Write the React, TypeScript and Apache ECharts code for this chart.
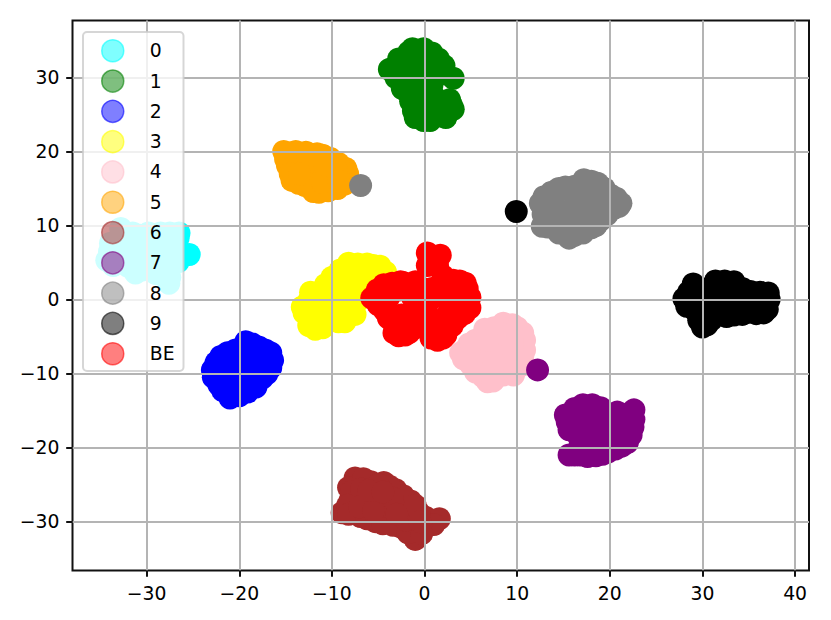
import React, { useEffect, useRef } from "react";
import * as echarts from "echarts";

type P = [number, number];

const xTicks = [-30, -20, -10, 0, 10, 20, 30, 40];
const yTicks = [-30, -20, -10, 0, 10, 20, 30];
const classNames = ["0", "1", "2", "3", "4", "5", "6", "7", "8", "9", "BE"];
const classColors = ["0,255,255", "0,128,0", "0,0,255", "255,255,0", "255,192,203", "255,165,0", "165,42,42", "128,0,128", "128,128,128", "0,0,0", "255,0,0"];

const class0: P[] = [[-32.8,9.6],[-33.9,7.6],[-34.3,5.3],[-33.6,4.6],[-31.2,3.6],[-32.8,5.1],[-29.6,4.0],[-27.6,2.2],[-28.0,4.0],[-26.6,8.3],[-26.6,6.7],[-25.4,6.1],[-26.6,5.1],[-31.7,7.3],[-29.6,6.7],[-28.0,6.7],[-30.7,8.7],[-29.0,8.0],[-28.5,9.0],[-33,8],[-33,6.5],[-31.5,5.5],[-30,5],[-28.5,5.5],[-27,7.5],[-27.5,3],[-30.5,4],[-32,4.5],[-31.5,9],[-29.8,9],[-27.5,9],[-26.5,9],[-34,6.5],[-30.5,7],[-27.2,5.8],[-29,3.5]];
const class1: P[] = [[-1.3,33.9],[-0.1,33.9],[-3.8,31.1],[-2.8,32.5],[-1.7,33.4],[2.1,31.6],[3.1,29.9],[0.9,32.3],[-3.1,31.2],[-1.7,27.8],[-2.2,29.6],[-0.4,30.9],[0.8,29.0],[2.7,27.0],[3.1,25.7],[2.3,24.6],[-0.1,24.2],[-0.4,25.3],[-1.0,27.2],[0.9,26.2],[0.1,28.2],[-1.0,32.0],[-3.1,30],[-2.4,28.5],[-1.5,26.8],[-1.2,25.5],[-1.0,24.6],[0.8,33.3],[1.5,32.5],[-1.5,31],[0.5,30.5],[2,30.5],[-1,29.5],[1,27.5],[2.7,25.5],[1.4,24.8],[0.6,24.2],[1.5,25.8],[-0.3,26.5],[-0.9,28.5],[-2.5,30.5],[1.9,26],[2.9,26.3]];
const class2: P[] = [[-19.3,-5.7],[-17.9,-6.4],[-16.6,-7.2],[-16.6,-9.2],[-17.5,-10.6],[-19.1,-12.5],[-21.0,-13.3],[-22.2,-11.5],[-22.9,-9.5],[-22.0,-7.7],[-20.4,-6.8],[-19.9,-9.5],[-21.2,-10.6],[-18.3,-8.8],[-20.4,-8.4],[-18.6,-6],[-21.3,-7.2],[-22.5,-8.5],[-22.8,-10.5],[-21.8,-12.3],[-20,-13],[-18.2,-11.8],[-17,-10],[-16.4,-8.2],[-17.2,-6.8],[-19.5,-7.5],[-18.5,-10],[-20.5,-11.5],[-21.5,-9],[-20,-11],[-17.8,-8],[-19.2,-12]];
const class3: P[] = [[-13.2,-1.0],[-11.8,-4.0],[-12.3,1.0],[-10.7,2.0],[-9.1,4.0],[-8.2,4.9],[-6.2,4.8],[-4.8,4.5],[-4.2,3.7],[-8.4,-2.4],[-10.2,-2.8],[-11.2,-0.7],[-9.6,0.6],[-7.5,2.0],[-5.8,2.0],[-8.5,-0.1],[-7.1,-0.1],[-12.0,-2.8],[-12.5,-0.2],[-13,-1.8],[-12.5,-3.5],[-11.5,0],[-11,1],[-10,3],[-9.5,2],[-7.2,4.8],[-5.5,4.6],[-8,3],[-6.8,3],[-4.5,2.5],[-9.5,-1.5],[-11,-2.5],[-8,-1.5],[-6.5,1],[-10,-0.5],[-9.3,-3],[-7.5,-2],[-11,-3.8],[-8.6,-3.0]];
const class4: P[] = [[9.5,-3.4],[7.5,-3.8],[5.5,-5.5],[4.4,-6.8],[3.9,-7.2],[5.0,-8.8],[6.3,-10.4],[6.8,-11.1],[9.6,-10.2],[10.6,-7.7],[10.6,-4.5],[8.2,-6.1],[6.6,-7.5],[8.7,-8.2],[6.0,-5.5],[8.0,-9.5],[10.6,-8.8],[8.5,-3.2],[10,-3.8],[10.8,-5.5],[10.8,-6.8],[6.5,-4],[4.8,-6],[4.2,-8],[5.5,-9.8],[7.5,-10.8],[8.5,-10.2],[9.8,-9.5],[7.3,-7],[9.5,-6],[9,-7.2],[6,-9],[7.5,-8.5],[8.5,-4.7],[6.8,-5.5],[7.4,-11.0]];
const class5: P[] = [[-15.2,20.0],[-13.9,20.0],[-11.6,19.7],[-10.2,19.1],[-8.5,17.7],[-8.7,16.4],[-9.4,15.0],[-11.4,14.5],[-12.9,15.4],[-14.3,16.1],[-14.8,18.1],[-13.4,18.1],[-11.8,17.5],[-10.2,16.8],[-12.9,19.5],[-14.5,19.8],[-12.8,19.9],[-11,19.5],[-9.3,18.4],[-8.3,17],[-8.6,15.6],[-10.4,14.7],[-12,14.6],[-13.6,15.7],[-15,19],[-14.5,17],[-12.5,16.8],[-11,15.8],[-9.5,17.5],[-12.5,18.5],[-10.8,18.2],[-9.3,16],[-13.5,17]];
const class6: P[] = [[-7.5,-24.1],[-8.2,-25.4],[-8.0,-27.0],[-8.9,-28.8],[-7.5,-28.6],[-5.3,-30.0],[-6.9,-29.3],[-4.4,-24.7],[-5.8,-24.6],[-3.1,-25.7],[-1.5,-27.2],[-1.0,-29.0],[-2.6,-30.7],[-1.0,-32.4],[0.1,-29.4],[1.6,-29.6],[1.0,-30.4],[-0.4,-30.4],[-6.4,-27.0],[-4.2,-27.7],[-5.3,-26.3],[-2.6,-28.4],[-3.7,-29.7],[-6.6,-24.2],[-7.9,-26],[-8.3,-27.8],[-8.2,-29],[-6.2,-29.6],[-4.5,-30.3],[-3.4,-30.5],[-1.8,-31.5],[-0.3,-31.6],[-0.6,-28.8],[-2.3,-26.5],[-3.8,-25.2],[-5,-25],[-6.8,-25.6],[-7,-28],[-5.5,-28.5],[-3.5,-26.8],[-2,-29.8],[-1,-27.8],[-6,-25.8],[-4.5,-26],[-3,-29],[-0.5,-30]];
const class7: P[] = [[15.2,-15.6],[17.1,-14.2],[18.1,-14.2],[20.8,-15.2],[22.6,-14.9],[22.5,-17.2],[21.9,-19.3],[19.8,-20.6],[18.5,-21.1],[16.8,-21.0],[15.6,-21.0],[15.6,-17.6],[17.4,-16.2],[19.0,-16.9],[20.6,-17.6],[17.9,-18.9],[20.1,-18.9],[15.4,-16.5],[16.2,-14.7],[19,-14.6],[21.8,-15.5],[22.6,-16.2],[22.3,-18.3],[21.3,-19.8],[20.6,-20.2],[19.2,-20.9],[17.6,-21.2],[16.2,-21],[17.3,-17.8],[18.5,-18],[21,-16.5],[19.5,-15.8],[16.8,-15.5],[19.2,-20],[17.5,-20],[21.1,-18.8],[16.5,-17.2],[16.6,-18.4],[16.8,-19.6]];
const class8: P[] = [[17.2,16.2],[18.7,15.7],[14.5,15.0],[12.9,13.9],[12.5,13.0],[21.2,13.0],[20.1,14.1],[15.6,8.3],[12.7,9.9],[17.1,9.0],[19.0,10.7],[20.4,12.3],[14.1,12.1],[16.3,12.7],[18.5,12.7],[15.8,14.8],[14.7,10.0],[19.0,14.1],[17.9,11.4],[13.1,11.4],[13.7,14.5],[15.2,15.2],[16.2,15.3],[18,16],[19.4,15],[20.7,13.7],[21,12.6],[19.7,11.5],[18.5,10],[16.2,8.7],[14.5,9],[13.3,9.8],[12.8,11.5],[12.7,12.6],[14,14],[14.2,10.8],[16,11],[17.2,14],[18.2,13.8],[20,13],[16.5,9.8],[15.5,12],[17.5,12.5],[19,12],[13.5,12.8],[18,9.7]];
const class9: P[] = [[28.0,0.1],[29.0,2.1],[31.4,2.5],[33.4,2.4],[35.2,1.1],[37.1,0.9],[36.9,-0.9],[36.6,-1.8],[33.4,-2.1],[30.0,-3.7],[29.6,-2.8],[28.3,-0.9],[30.3,-0.1],[32.5,0.2],[34.7,-0.3],[31.4,-2.1],[35.0,-1.7],[28.5,1],[29.7,1],[30.2,1.4],[32.4,2.5],[34.3,1.5],[36.2,1],[37.2,0],[37,-1.3],[35.8,-1.9],[34.3,-2],[32.6,-2.3],[31,-2.7],[30.5,-3.4],[29.3,-1.6],[29.3,0.5],[31,1],[33,1],[35,0.5],[36,-0.5],[33.5,-1],[31.5,-0.8],[29.8,-1.8],[34,-0.8],[36.2,0.2]];
const classBE: P[] = [[0.3,6.3],[1.7,6.0],[0.3,4.6],[1.4,4.6],[3.1,2.6],[4.4,2.2],[4.6,1.5],[4.9,-1.1],[3.6,-2.5],[2.3,-4.8],[1.4,-5.5],[-2.1,-4.8],[-2.8,-4.9],[-3.9,-2.5],[-5.7,0.2],[-5.1,1.3],[-3.5,2.2],[-1.0,2.4],[-3.9,0.2],[-1.3,0.3],[-2.5,-2.1],[1.7,2.0],[0.6,-0.1],[2.8,-0.1],[0.1,-2.8],[-1.0,-3.8],[1.2,-2.8],[-4.4,2.0],[-2.3,2.3],[2.0,3.2],[3.8,2.5],[4.9,0.3],[4.3,-1.9],[3,-3.5],[2,-5.2],[0.7,-5.2],[-3.3,-4.5],[-4.3,-1.5],[-5,-0.7],[-4.8,1],[-1.7,-4.5],[-0.5,-3.5],[3.8,0.5],[3.5,1],[1.7,0.5],[-0.2,1.5],[-2.8,1.3],[-5,0],[-4.5,-1],[-3.3,-3.3],[-1.8,-3.5],[-0.5,-1.5],[1,-4],[2.5,-2],[3.7,-1],[3,1],[0.8,1.5],[-0.3,-0.9],[-2.6,2.4]];
const classData = [class0, class1, class2, class3, class4, class5, class6, class7, class8, class9, classBE];

const stray7: P[] = [[12.2, -9.5]];
const stray8: P[] = [[-6.9, 15.4]];
const stray9: P[] = [[9.9, 11.9]];

const FONT = "DejaVu Sans";
const fmt = (v: number) => String(v).replace("-", "\u2212");

const axisBase = (ticks: number[]) => ({
  type: "value",
  z: 10,
  axisLine: { show: false, onZero: false },
  axisTick: { show: true, length: 6.3, customValues: ticks, lineStyle: { color: "#111", width: 2 } },
  axisLabel: { show: true, customValues: ticks, margin: 13, color: "#000", fontFamily: FONT, fontSize: 18.8, formatter: fmt, hideOverlap: false },
  splitLine: { show: true, lineStyle: { color: "#b4b4b4", width: 2 } },
});

export default function App() {
  const ref = useRef<HTMLDivElement>(null);
  useEffect(() => {
    const chart = echarts.init(ref.current!, null, { renderer: "svg" });
    const strayRgb = (i: number) => `rgb(${classColors[i]})`;
    chart.setOption({
      animation: false,
      backgroundColor: "#fff",
      grid: { left: 72.5, right: 22, top: 20.5, bottom: 49.5, show: true, borderColor: "#111", borderWidth: 2, backgroundColor: "transparent", z: 0 },
      xAxis: { ...axisBase(xTicks), min: -38, max: 41.5 },
      yAxis: { ...axisBase(yTicks), min: -36.6, max: 37.7 },
      legend: {
        orient: "vertical",
        left: 83,
        top: 32,
        z: 30,
        selectedMode: false,
        icon: "circle",
        itemWidth: 22,
        itemHeight: 22,
        itemGap: 6.8,
        padding: [7, 9, 5.5, 18],
        backgroundColor: "rgba(255,255,255,0.8)",
        borderColor: "rgba(204,204,204,0.8)",
        borderWidth: 2,
        borderRadius: 4,
        textStyle: { color: "#000", fontFamily: FONT, fontSize: 18.8, lineHeight: 20, padding: [0, 0, 3, 21] },
        data: classNames.map((name, i) => ({
          name,
          itemStyle: { color: `rgba(${classColors[i]},0.5)`, borderColor: `rgba(${classColors[i]},0.6)`, borderWidth: 1.5 },
        })),
      },
      series: [
        ...classNames.map((name, i) => ({
          type: "scatter",
          name,
          z: 2,
          silent: true,
          symbol: "circle",
          symbolSize: 23,
          itemStyle: { color: `rgb(${classColors[i]})`, opacity: 1 },
          data: classData[i],
        })),
        ...[
          { idx: 7, data: stray7 },
          { idx: 8, data: stray8 },
          { idx: 9, data: stray9 },
        ].map((s) => ({
          type: "scatter",
          name: `stray ${s.idx}`,
          z: 20,
          silent: true,
          symbol: "circle",
          symbolSize: 23,
          itemStyle: { color: strayRgb(s.idx), opacity: 1 },
          data: s.data,
        })),
      ],
    });
    return () => chart.dispose();
  }, []);
  return <div ref={ref} style={{ position: "absolute", left: 0, top: 0, width: 831, height: 620 }} />;
}
